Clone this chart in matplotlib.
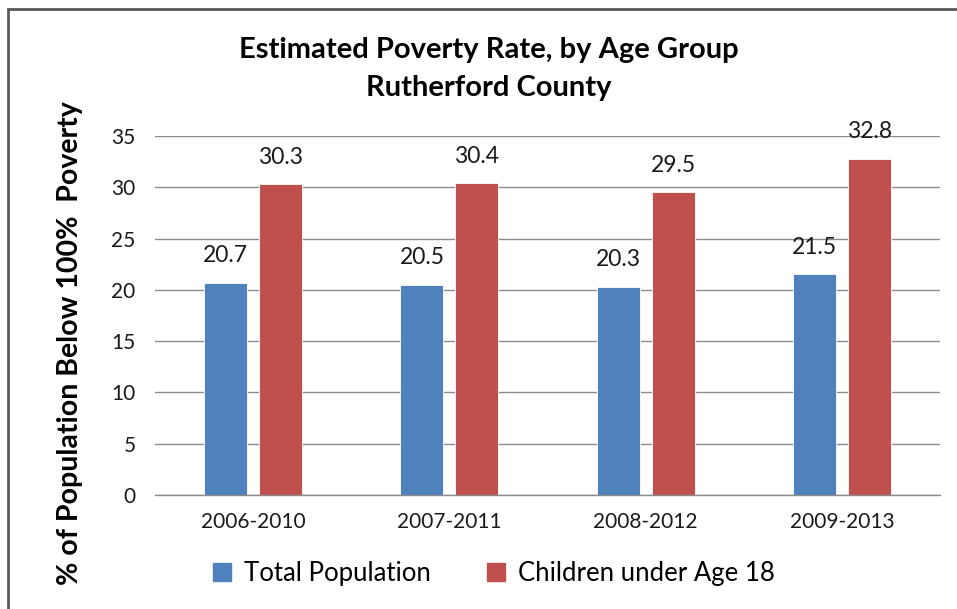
import matplotlib.pyplot as plt
import numpy as np
from matplotlib.patches import Rectangle, Patch

periods = ['2006-2010', '2007-2011', '2008-2012', '2009-2013']
total_pop = [20.7, 20.5, 20.3, 21.5]
children = [30.3, 30.4, 29.5, 32.8]
series_names = ['Total Population', 'Children under Age 18']
colors = ['#4F81BD', '#C0504D']


def main():
    plt.rcParams['font.family'] = ['Lato', 'DejaVu Sans']
    W, H = 957, 609
    fig = plt.figure(figsize=(W / 100, H / 100), dpi=100)

    # outer chart border (right/bottom edges run off the image)
    fig.patches.append(Rectangle((8 / W, -0.05), 1.05, 1 - 9 / H + 0.05,
                                 transform=fig.transFigure, fill=False,
                                 edgecolor='#5a5a5a', linewidth=2))

    ax = fig.add_axes([155 / W, 1 - 495 / H, (940 - 155) / W, (495 - 136) / H])
    x = np.arange(len(periods))
    w = 0.22
    off = 0.14
    b1 = ax.bar(x - off, total_pop, w, color=colors[0], edgecolor='white', linewidth=0.6)
    b2 = ax.bar(x + off, children, w, color=colors[1], edgecolor='white', linewidth=0.6)

    for bars in (b1, b2):
        for rect in bars:
            v = rect.get_height()
            ax.annotate(f'{v:.1f}', (rect.get_x() + rect.get_width() / 2, v),
                        xytext=(0, 12), textcoords='offset points',
                        ha='center', va='bottom', fontsize=16.5, color='#1a1a1a')

    ax.set_xlim(-0.5, len(periods) - 0.5)
    ax.set_ylim(0, 35)
    ax.set_yticks(range(0, 36, 5))
    ax.set_xticks(x)
    ax.set_xticklabels(periods)
    ax.tick_params(axis='both', length=0, labelsize=15, colors='#1a1a1a')
    ax.tick_params(axis='x', pad=12)
    ax.tick_params(axis='y', pad=14)
    ax.yaxis.grid(True, color='#8c8c8c', linewidth=1)
    ax.set_axisbelow(True)
    for s in ('top', 'right', 'left'):
        ax.spines[s].set_visible(False)
    ax.spines['bottom'].set_color('#8c8c8c')
    ax.spines['bottom'].set_linewidth(1)

    fig.text(70 / W, 1 - 343 / H, '% of Population Below 100%  Poverty',
             rotation=90, ha='center', va='center', fontsize=20.5, fontweight='bold')
    fig.text(489 / W, 1 - 50 / H, 'Estimated Poverty Rate, by Age Group',
             ha='center', va='center', fontsize=21, fontweight='bold')
    fig.text(489 / W, 1 - 88 / H, 'Rutherford County',
             ha='center', va='center', fontsize=21, fontweight='bold')

    handles = [Patch(color=c) for c in colors]
    fig.legend(handles, series_names, loc='center', bbox_to_anchor=(494 / W, 1 - 573 / H),
               ncol=2, frameon=False, fontsize=18.5, handlelength=0.7, handleheight=0.7,
               handletextpad=0.5, columnspacing=2.2)

    fig.savefig('out.png', dpi=100)


if __name__ == "__main__":
    main()
